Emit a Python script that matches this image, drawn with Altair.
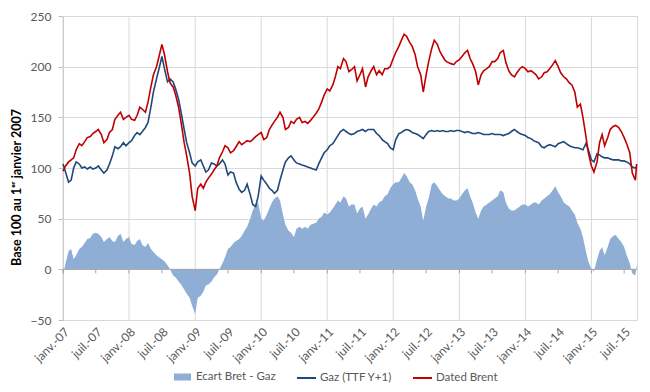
import altair as alt
import pandas as pd

series_names = ["Ecart Bret - Gaz", "Gaz (TTF Y+1)", "Dated Brent"]
colors = ["#8FAED6", "#1F497D", "#C00000"]

dates = list(pd.date_range("2007-01-01", "2015-09-01", freq="SMS").strftime("%Y-%m-%d")) + ["2015-09-08"]

brent = [
    97, 102, 106, 108, 110, 118, 124, 122, 126, 130, 131, 134, 136, 138, 133, 125, 128, 135, 138, 148, 152, 155, 148, 150,
    152, 148, 147, 152, 160, 158, 155, 165, 180, 192, 200, 210, 222, 212, 195, 184, 180, 172, 160, 145, 125, 112, 95, 72,
    58, 80, 84, 80, 86, 90, 94, 98, 102, 110, 116, 122, 120, 115, 117, 121, 126, 123, 125, 127, 126, 128, 131, 133,
    135, 128, 130, 138, 142, 146, 150, 155, 150, 138, 140, 146, 144, 148, 150, 145, 146, 144, 147, 150, 154, 158, 165, 172,
    178, 176, 182, 190, 200, 198, 208, 205, 195, 197, 200, 186, 192, 198, 180, 190, 196, 200, 192, 196, 192, 198, 198, 200,
    208, 214, 220, 226, 232, 230, 224, 220, 212, 200, 192, 175, 192, 205, 218, 226, 222, 215, 210, 206, 204, 203, 202, 205,
    207, 210, 214, 216, 208, 203, 195, 182, 192, 196, 198, 200, 205, 205, 208, 214, 216, 204, 196, 192, 190, 194, 198, 200,
    198, 195, 196, 194, 192, 188, 190, 194, 195, 198, 202, 206, 200, 194, 190, 188, 184, 182, 175, 160, 163, 150, 132, 115,
    102, 96, 106, 125, 133, 122, 130, 138, 141, 142, 140, 136, 130, 124, 115, 95, 88, 104,
]

gaz = [
    104, 96, 86, 88, 100, 106, 104, 100, 101, 99, 101, 99, 100, 102, 98, 95, 98, 104, 112, 121, 119, 121, 125, 122,
    125, 127, 132, 135, 133, 136, 140, 145, 160, 175, 188, 198, 210, 198, 185, 188, 185, 178, 168, 155, 138, 125, 115, 105,
    102, 106, 108, 102, 96, 98, 105, 104, 102, 104, 108, 104, 93, 96, 95, 86, 79, 76, 78, 84, 74, 64, 62, 72,
    92, 88, 84, 80, 78, 75, 78, 88, 98, 106, 110, 112, 108, 105, 104, 103, 102, 101, 100, 99, 98, 104, 110, 115,
    118, 122, 124, 128, 132, 136, 138, 136, 134, 133, 134, 136, 137, 138, 136, 138, 138, 138, 134, 132, 128, 126, 124, 120,
    118, 128, 134, 135, 137, 138, 137, 135, 134, 133, 131, 129, 133, 136, 137, 136, 137, 136, 137, 136, 136, 137, 136, 137,
    137, 136, 135, 136, 135, 134, 134, 135, 134, 133, 133, 133, 134, 133, 133, 133, 132, 133, 134, 136, 138, 136, 134, 133,
    132, 130, 129, 127, 126, 125, 121, 120, 122, 123, 122, 121, 124, 125, 126, 124, 122, 121, 120, 120, 119, 118, 124, 118,
    108, 106, 114, 113, 111, 110, 110, 109, 108, 108, 108, 107, 107, 106, 104, 101, 100, 101,
]

ecart = [
    -6, 6, 18, 20, 10, 14, 20, 22, 26, 30, 31, 35, 36, 35, 32, 27, 30, 32, 28, 27, 33, 35, 27, 30,
    32, 25, 24, 28, 30, 24, 22, 26, 20, 17, 14, 12, 10, 8, 4, 0, -6, -8, -12, -15, -20, -24, -28, -36,
    -44, -28, -26, -22, -16, -15, -12, -8, -5, 0, 6, 12, 20, 22, 26, 28, 30, 33, 38, 42, 50, 58, 64, 66,
    50, 48, 54, 60, 66, 70, 72, 68, 54, 44, 38, 36, 32, 40, 42, 40, 42, 40, 44, 45, 46, 50, 52, 56,
    54, 56, 60, 64, 68, 66, 72, 70, 62, 64, 64, 55, 60, 62, 50, 54, 60, 64, 62, 66, 68, 72, 74, 80,
    84, 86, 86, 90, 95, 92, 86, 84, 78, 70, 62, 48, 62, 70, 84, 86, 82, 78, 74, 72, 70, 70, 68, 68,
    70, 74, 78, 80, 72, 66, 56, 50, 58, 62, 64, 66, 68, 70, 72, 78, 76, 66, 60, 58, 58, 60, 62, 64,
    64, 62, 64, 66, 66, 64, 68, 70, 72, 74, 78, 82, 76, 72, 66, 64, 62, 58, 54, 46, 40, 32, 18, 8,
    0, -2, 10, 18, 22, 14, 22, 30, 33, 34, 30, 27, 22, 14, 6, -4, -6, 6,
]

y_ticks = [-50, 0, 50, 100, 150, 200, 250]
year_starts = [f"{y}-01-01" for y in range(2007, 2016)]
half_years = [f"{y}-{m}-01" for y in range(2007, 2016) for m in ("01", "07")]

assert len(dates) == len(brent) == len(gaz) == len(ecart)

df = pd.DataFrame({"date": dates, "brent": brent, "gaz": gaz, "ecart": ecart})
gaz_df = pd.DataFrame({"date": dates, "v": gaz, "serie": series_names[1]})
brent_df = pd.DataFrame({"date": dates, "v": brent, "serie": series_names[2]})
legend_df = pd.DataFrame({"date": [dates[0]] * 3, "v": [100, 100, 100], "serie": series_names})

FONT = "Lato"
GREY = "#595959"

x_scale = alt.Scale(
    type="utc",
    domain=[alt.DateTime(year=2007, month=1, date=1, utc=True),
            alt.DateTime(year=2015, month=9, date=10, utc=True)],
)
x_axis = alt.Axis(
    values=[alt.DateTime(year=int(d[:4]), month=int(d[5:7]), date=1, utc=True) for d in half_years],
    labelExpr="(utcmonth(datum.value) == 0 ? 'janv.-' : 'juil.-') + utcFormat(datum.value, '%y')",
    labelAngle=-45, grid=False, ticks=False, domain=False, labelOverlap=False, labelFlush=False,
    labelFont=FONT, labelFontSize=12, labelColor=GREY, labelPadding=6, title=None,
)
y_scale = alt.Scale(domain=[-50, 250], nice=False, zero=False)
y_axis = alt.Axis(
    values=y_ticks, title="Base 100 au 1ᵉʳ janvier 2007", titleFont=FONT, titleFontSize=12.5,
    titleFontWeight="bold", titleColor="#000000", titleX=-47, titleY=171, titleBaseline="middle",
    labelFont=FONT, labelFontSize=12, labelColor=GREY, tickSize=5, tickColor="#bfbfbf",
    domainColor="#bfbfbf", gridColor="#d9d9d9", labelPadding=7, labelFlush=False,
)

X = alt.X("date:T", scale=x_scale, axis=x_axis)

grid = alt.Chart(pd.DataFrame({"date": year_starts})).mark_rule(color="#d9d9d9", strokeWidth=1).encode(x=X)

area = alt.Chart(df).mark_area(color=colors[0]).encode(
    x=X, y=alt.Y("ecart:Q", scale=y_scale, axis=y_axis), y2=alt.datum(0)
)

zero_line = alt.Chart(pd.DataFrame({"v": [0]})).mark_rule(color="#a6a6a6", strokeWidth=1).encode(
    y=alt.Y("v:Q", scale=y_scale, axis=y_axis)
)
zero_ticks = alt.Chart(pd.DataFrame({"date": half_years})).mark_rule(color="#a6a6a6", strokeWidth=1).encode(
    x=X, y=alt.datum(0), y2=alt.datum(-4)
)

gaz_line = alt.Chart(gaz_df).mark_line(color=colors[1], strokeWidth=1.6).encode(
    x=X, y=alt.Y("v:Q", scale=y_scale, axis=y_axis)
)
brent_line = alt.Chart(brent_df).mark_line(color=colors[2], strokeWidth=1.6).encode(
    x=X, y=alt.Y("v:Q", scale=y_scale, axis=y_axis)
)

leg = dict(
    orient="none", legendX=109, legendY=350, direction="horizontal", title=None,
    labelFont=FONT, labelFontSize=11.5, labelColor=GREY, symbolSize=361, symbolStrokeWidth=2,
    labelOffset=3, columnPadding=17, symbolOpacity=1,
)
legend_layer = alt.Chart(legend_df).mark_point(opacity=0, filled=True).encode(
    x=X,
    y=alt.Y("v:Q", scale=y_scale, axis=y_axis),
    fill=alt.Fill("serie:N", scale=alt.Scale(domain=series_names, range=[colors[0], "transparent", "transparent"]),
                  legend=alt.Legend(**leg)),
    stroke=alt.Stroke("serie:N", scale=alt.Scale(domain=series_names, range=["transparent", colors[1], colors[2]]),
                      legend=alt.Legend(**leg)),
    shape=alt.Shape("serie:N", scale=alt.Scale(domain=series_names,
                                                range=["M-0.9,-0.37H0.9V0.37H-0.9Z", "M-1,0H1", "M-1,0H1"]),
                    legend=alt.Legend(**leg)),
)

chart = alt.layer(grid, area, zero_line, zero_ticks, gaz_line, brent_line, legend_layer).properties(
    width=574, height=304,
    autosize=alt.AutoSizeParams(type="none"),
    padding={"left": 55, "top": 8, "right": 5, "bottom": 64},
    background="white",
).configure_view(stroke="#d9d9d9", strokeWidth=1)

chart.save("out.html", embed_options={"renderer": "svg", "actions": False})
